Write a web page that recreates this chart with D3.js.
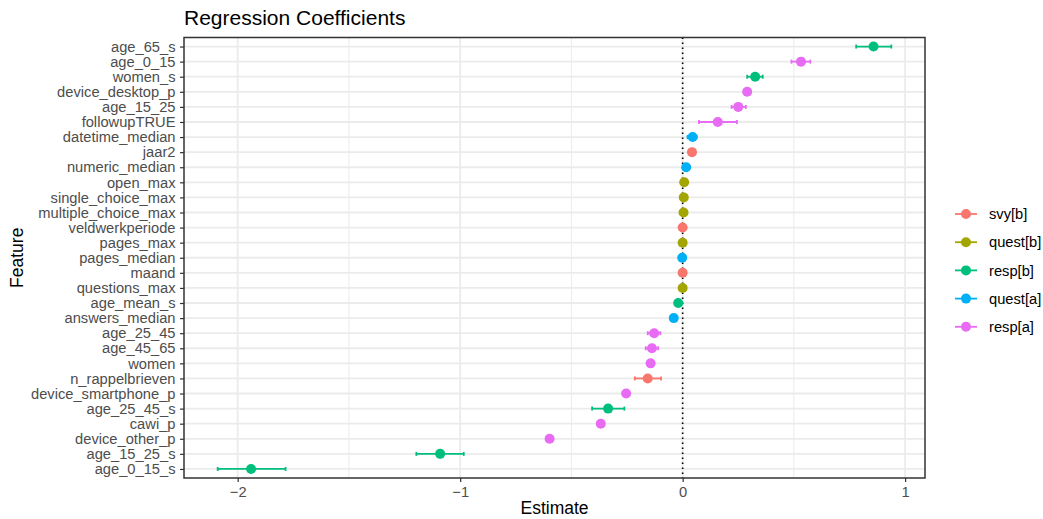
<!DOCTYPE html>
<html>
<head>
<meta charset="utf-8">
<script src="https://cdn.jsdelivr.net/npm/d3@7"></script>
<style>
  body { margin: 0; background: #fff; }
  text { font-family: "Liberation Sans", Arial, sans-serif; }
</style>
</head>
<body>
<div id="chart"></div>
<script>
'use strict';

var features = ['age_65_s', 'age_0_15', 'women_s', 'device_desktop_p', 'age_15_25', 'followupTRUE',
  'datetime_median', 'jaar2', 'numeric_median', 'open_max', 'single_choice_max', 'multiple_choice_max',
  'veldwerkperiode', 'pages_max', 'pages_median', 'maand', 'questions_max', 'age_mean_s',
  'answers_median', 'age_25_45', 'age_45_65', 'women', 'n_rappelbrieven', 'device_smartphone_p',
  'age_25_45_s', 'cawi_p', 'device_other_p', 'age_15_25_s', 'age_0_15_s'];

var groups = ['resp[b]', 'resp[a]', 'resp[b]', 'resp[a]', 'resp[a]', 'resp[a]',
  'quest[a]', 'svy[b]', 'quest[a]', 'quest[b]', 'quest[b]', 'quest[b]',
  'svy[b]', 'quest[b]', 'quest[a]', 'svy[b]', 'quest[b]', 'resp[b]',
  'quest[a]', 'resp[a]', 'resp[a]', 'resp[a]', 'svy[b]', 'resp[a]',
  'resp[b]', 'resp[a]', 'resp[a]', 'resp[b]', 'resp[b]'];

var estimates = [0.858, 0.532, 0.326, 0.29, 0.25, 0.158,
  0.045, 0.042, 0.016, 0.007, 0.005, 0.004,
  0.0, 0.0, -0.002, 0.0, 0.0, -0.02,
  -0.04, -0.128, -0.138, -0.144, -0.157, -0.254,
  -0.335, -0.368, -0.598, -1.09, -1.94];

var lower = [0.78, 0.489, 0.29, 0.284, 0.22, 0.073,
  0.022, 0.039, 0.011, 0.005, 0.003, 0.002,
  -0.002, -0.002, -0.004, -0.002, -0.002, -0.025,
  -0.045, -0.157, -0.166, -0.15, -0.215, -0.26,
  -0.407, -0.374, -0.604, -1.197, -2.09];

var upper = [0.938, 0.574, 0.36, 0.296, 0.284, 0.244,
  0.063, 0.045, 0.021, 0.009, 0.007, 0.006,
  0.002, 0.002, 0.0, 0.002, 0.002, -0.015,
  -0.035, -0.1, -0.11, -0.138, -0.097, -0.248,
  -0.262, -0.362, -0.592, -0.984, -1.785];

var legendOrder = ['svy[b]', 'quest[b]', 'resp[b]', 'quest[a]', 'resp[a]'];
var legendColors = ['#F8766D', '#A3A500', '#00BF7D', '#00B0F6', '#E76BF3'];
var xTicks = [-2, -1, 0, 1];
var xMinor = [-1.5, -0.5, 0.5];

var width = 1043, height = 519;
var panel = { left: 184, right: 925, top: 37.5, bottom: 478 };

var rows = features.map(function(f, i) {
  return { feature: f, group: groups[i], est: estimates[i], lo: lower[i], hi: upper[i] };
});

var lo = d3.min(lower), hi = d3.max(upper), pad = (hi - lo) * 0.05;
var x = d3.scaleLinear().domain([lo - pad, hi + pad]).range([panel.left, panel.right]);
var y = d3.scalePoint().domain(features).range([panel.top, panel.bottom]).padding(0.6);
var color = d3.scaleOrdinal().domain(legendOrder).range(legendColors);

var svg = d3.select('#chart').append('svg')
  .attr('width', width)
  .attr('height', height);

svg.append('rect').attr('width', width).attr('height', height).attr('fill', '#fff');

// grid
var grid = svg.append('g');
grid.selectAll('.minor').data(xMinor).enter().append('line')
  .attr('x1', x).attr('x2', x)
  .attr('y1', panel.top).attr('y2', panel.bottom)
  .attr('stroke', '#EBEBEB').attr('stroke-width', 1);
grid.selectAll('.majx').data(xTicks).enter().append('line')
  .attr('x1', x).attr('x2', x)
  .attr('y1', panel.top).attr('y2', panel.bottom)
  .attr('stroke', '#EBEBEB').attr('stroke-width', 1.8);
grid.selectAll('.majy').data(features).enter().append('line')
  .attr('x1', panel.left).attr('x2', panel.right)
  .attr('y1', y).attr('y2', y)
  .attr('stroke', '#EBEBEB').attr('stroke-width', 1.8);

// zero line
svg.append('line')
  .attr('x1', x(0)).attr('x2', x(0))
  .attr('y1', panel.top).attr('y2', panel.bottom)
  .attr('stroke', '#000').attr('stroke-width', 1.6)
  .attr('stroke-dasharray', '1.6,3.4');

// error bars
var bars = svg.append('g').selectAll('g').data(rows).enter().append('g')
  .attr('stroke', function(d) { return color(d.group); })
  .attr('stroke-width', 1.8);
bars.append('line')
  .attr('x1', function(d) { return x(d.lo); })
  .attr('x2', function(d) { return x(d.hi); })
  .attr('y1', function(d) { return y(d.feature); })
  .attr('y2', function(d) { return y(d.feature); });
bars.append('line')
  .attr('x1', function(d) { return x(d.lo); })
  .attr('x2', function(d) { return x(d.lo); })
  .attr('y1', function(d) { return y(d.feature) - 2; })
  .attr('y2', function(d) { return y(d.feature) + 2; });
bars.append('line')
  .attr('x1', function(d) { return x(d.hi); })
  .attr('x2', function(d) { return x(d.hi); })
  .attr('y1', function(d) { return y(d.feature) - 2; })
  .attr('y2', function(d) { return y(d.feature) + 2; });

// points
svg.append('g').selectAll('circle').data(rows).enter().append('circle')
  .attr('cx', function(d) { return x(d.est); })
  .attr('cy', function(d) { return y(d.feature); })
  .attr('r', 5)
  .attr('fill', function(d) { return color(d.group); });

// panel border
svg.append('rect')
  .attr('x', panel.left).attr('y', panel.top)
  .attr('width', panel.right - panel.left).attr('height', panel.bottom - panel.top)
  .attr('fill', 'none').attr('stroke', '#333333').attr('stroke-width', 1.5);

// axes
var xAxis = svg.append('g')
  .attr('transform', 'translate(0,' + panel.bottom + ')')
  .call(d3.axisBottom(x).tickValues(xTicks).tickSize(4).tickPadding(3)
    .tickFormat(function(d) { return d < 0 ? '\u2212' + Math.abs(d) : d; }));
var yAxis = svg.append('g')
  .attr('transform', 'translate(' + panel.left + ',0)')
  .call(d3.axisLeft(y).tickSize(4).tickPadding(4.5));

[xAxis, yAxis].forEach(function(ax) {
  ax.select('.domain').remove();
  ax.selectAll('.tick line').attr('stroke', '#333333').attr('stroke-width', 1.2);
  ax.selectAll('.tick text')
    .attr('fill', '#4D4D4D')
    .style('font-size', '14.7px')
    .style('font-family', '"Liberation Sans", Arial, sans-serif');
});
xAxis.selectAll('.tick text').attr('dy', '0.85em');

// titles
svg.append('text')
  .attr('x', panel.left).attr('y', 25)
  .style('font-size', '21px')
  .attr('fill', '#000')
  .text('Regression Coefficients');

svg.append('text')
  .attr('x', (panel.left + panel.right) / 2).attr('y', 514)
  .attr('text-anchor', 'middle')
  .style('font-size', '17.5px')
  .text('Estimate');

svg.append('text')
  .attr('transform', 'translate(23,' + ((panel.top + panel.bottom) / 2) + ') rotate(-90)')
  .attr('text-anchor', 'middle')
  .style('font-size', '17.5px')
  .text('Feature');

// legend
var legend = svg.append('g').selectAll('g').data(legendOrder).enter().append('g')
  .attr('transform', function(d, i) { return 'translate(955,' + (214 + i * 28.2) + ')'; });
legend.append('line')
  .attr('x1', 0).attr('x2', 22)
  .attr('stroke', function(d) { return color(d); })
  .attr('stroke-width', 1.8);
legend.append('circle')
  .attr('cx', 11).attr('r', 5)
  .attr('fill', function(d) { return color(d); });
legend.append('text')
  .attr('x', 34).attr('dy', '0.35em')
  .style('font-size', '14.7px')
  .attr('fill', '#000')
  .text(function(d) { return d; });
</script>
</body>
</html>
